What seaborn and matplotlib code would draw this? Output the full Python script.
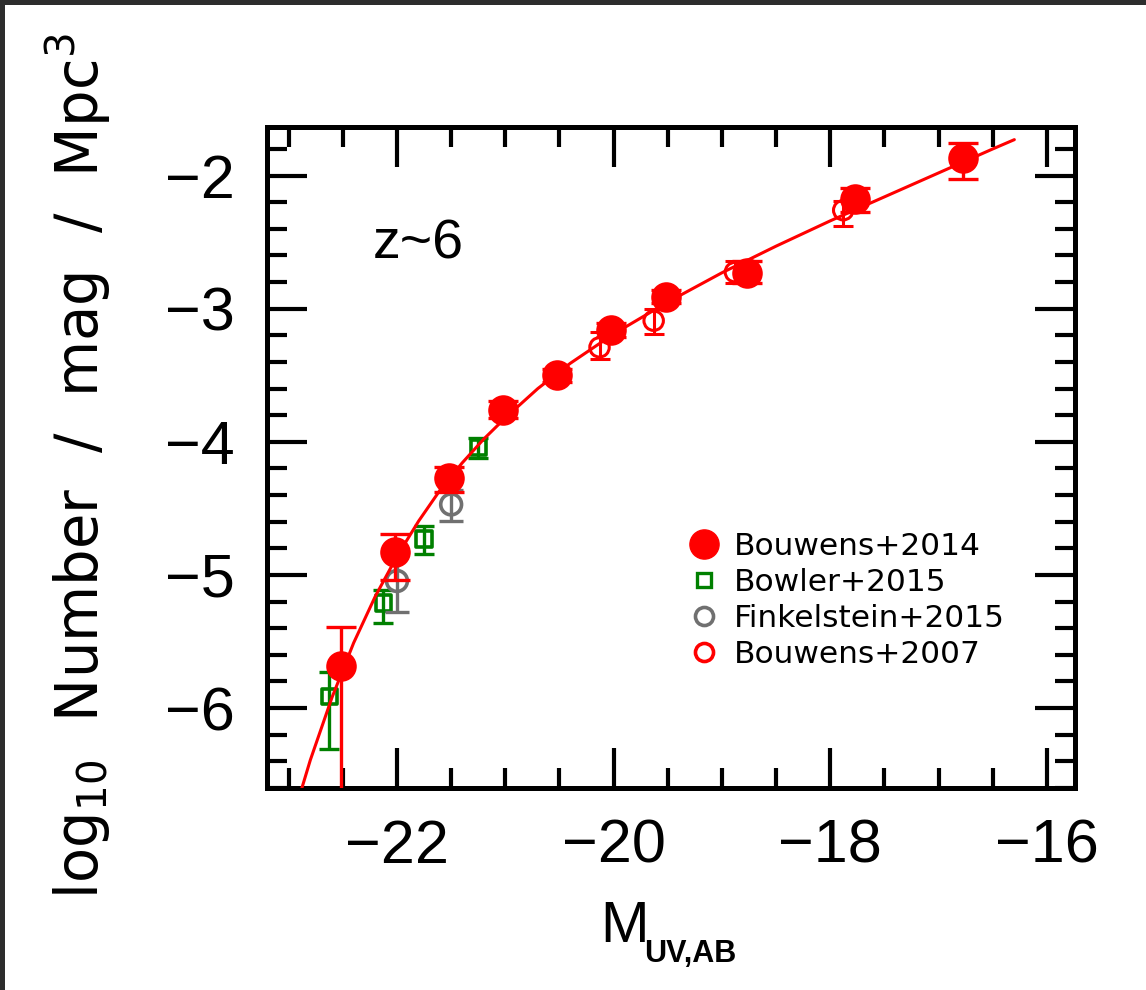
import numpy as np
import pandas as pd
import matplotlib
matplotlib.use("Agg")
import matplotlib.pyplot as plt
from matplotlib.lines import Line2D
from matplotlib.patches import Rectangle
from matplotlib.ticker import MultipleLocator
import seaborn as sns

# ---------------- data ----------------
b14_M = [-22.52, -22.02, -21.52, -21.02, -20.52, -20.02, -19.52, -18.77, -17.77, -16.77]
b14_logphi = [-5.68, -4.83, -4.27, -3.76, -3.50, -3.16, -2.91, -2.73, -2.175, -1.87]
b14_hi = [-5.39, -4.695, -4.19, -3.69, -3.45, -3.11, -2.86, -2.64, -2.09, -1.755]
b14_lo = [-7.0, -5.04, -4.375, -3.82, -3.55, -3.21, -2.96, -2.81, -2.275, -2.025]

bowler_M = [-22.625, -22.125, -21.75, -21.25]
bowler_logphi = [-5.91, -5.21, -4.73, -4.045]
bowler_hi = [-5.73, -5.11, -4.63, -3.97]
bowler_lo = [-6.31, -5.36, -4.84, -4.12]

fink_M = [-22.0, -21.5]
fink_logphi = [-5.045, -4.47]
fink_hi = [-4.85, -4.36]
fink_lo = [-5.28, -4.595]

b07_M = [-20.13, -19.63, -18.88, -17.88]
b07_logphi = [-3.29, -3.09, -2.725, -2.26]
b07_hi = [-3.175, -3.0, -2.64, -2.19]
b07_lo = [-3.375, -3.19, -2.81, -2.38]

fit_M = [-22.9, -22.8, -22.6, -22.4, -22.2, -22.0, -21.8, -21.6, -21.4, -21.2, -21.0,
         -20.7, -20.4, -20.0, -19.5, -19.0, -18.5, -18.0, -17.5, -17.0, -16.5, -16.3]
fit_logphi = [-6.66, -6.39, -5.92, -5.51, -5.16, -4.86, -4.595, -4.36, -4.16, -3.98, -3.82,
              -3.60, -3.41, -3.19, -2.95, -2.73, -2.53, -2.34, -2.16, -1.98, -1.80, -1.73]

legend_labels = ["Bouwens+2014", "Bowler+2015", "Finkelstein+2015", "Bouwens+2007"]
x_ticks = [-22, -20, -18, -16]
y_ticks = [-6, -5, -4, -3, -2]

# ---------------- style ----------------
sns.set_theme(style="ticks")
plt.rcParams["font.family"] = ["Liberation Sans", "DejaVu Sans"]
plt.rcParams["mathtext.fontset"] = "custom"
plt.rcParams["mathtext.rm"] = "DejaVu Sans"
plt.rcParams["mathtext.it"] = "DejaVu Sans"
plt.rcParams["mathtext.bf"] = "DejaVu Sans:bold"
for key in ["text.color", "axes.labelcolor", "xtick.color", "ytick.color", "axes.edgecolor"]:
    plt.rcParams[key] = "black"

RED = "#ff0000"
GREEN = "#008000"
GREY = "#707070"

fig = plt.figure(figsize=(11.46, 9.90), dpi=100)
ax = fig.add_axes([267 / 1146, 1 - 788 / 990, 808 / 1146, 661 / 990])
ax.set_facecolor("white")


def err(vals, lo, hi):
    v = np.asarray(vals)
    return [v - np.asarray(lo), np.asarray(hi) - v]


# Bowler+2015
ax.errorbar(bowler_M, bowler_logphi, yerr=err(bowler_logphi, bowler_lo, bowler_hi), fmt="none",
            ecolor=GREEN, elinewidth=2.4, capsize=7, capthick=2.4, zorder=2)
sns.scatterplot(x=bowler_M, y=bowler_logphi, marker="s", s=11 ** 2, facecolors="none",
                edgecolor=GREEN, linewidth=2.6, legend=False, ax=ax, zorder=2.1)

# Finkelstein+2015
ax.errorbar(fink_M, fink_logphi, yerr=err(fink_logphi, fink_lo, fink_hi), fmt="none",
            ecolor=GREY, elinewidth=2.4, capsize=8.5, capthick=2.4, zorder=3)
sns.scatterplot(x=fink_M, y=fink_logphi, marker="o", s=15 ** 2, facecolors="none",
                edgecolor=GREY, linewidth=2.6, legend=False, ax=ax, zorder=3.1)

# Bouwens+2007
ax.errorbar(b07_M, b07_logphi, yerr=err(b07_logphi, b07_lo, b07_hi), fmt="none",
            ecolor=RED, elinewidth=2.2, capsize=7, capthick=2.2, zorder=4)
sns.scatterplot(x=b07_M, y=b07_logphi, marker="o", s=14 ** 2, facecolors="none",
                edgecolor=RED, linewidth=2.2, legend=False, ax=ax, zorder=4.1)

# Bouwens+2014
ax.errorbar(b14_M, b14_logphi, yerr=err(b14_logphi, b14_lo, b14_hi), fmt="none",
            ecolor=RED, elinewidth=2.4, capsize=11, capthick=2.4, zorder=5)
sns.scatterplot(x=b14_M, y=b14_logphi, marker="o", s=22 ** 2, color=RED,
                edgecolor=RED, linewidth=0, legend=False, ax=ax, zorder=6)

# fit line
sns.lineplot(x=fit_M, y=fit_logphi, sort=False, estimator=None, color=RED, lw=2.2,
             ax=ax, zorder=7)

# ---------------- axes ----------------
ax.set_xlim(-23.2, -15.74)
ax.set_ylim(-6.6, -1.635)
ax.set_xticks(x_ticks)
ax.set_yticks(y_ticks)
ax.xaxis.set_minor_locator(MultipleLocator(0.5))
ax.yaxis.set_minor_locator(MultipleLocator(0.2))
ax.tick_params(which="both", direction="in", top=True, right=True, color="black",
               labelcolor="black", width=3.0)
ax.tick_params(which="major", length=29, labelsize=44)
ax.tick_params(which="minor", length=14.5)
ax.tick_params(axis="x", which="major", pad=22)
ax.tick_params(axis="y", which="major", pad=23)
for sp in ax.spines.values():
    sp.set_linewidth(3.6)
    sp.set_color("black")
    sp.set_visible(True)

# axis titles
fig.text(600 / 1146, 1 - 942 / 990, "M", fontsize=42, ha="left", va="baseline",
         color="black")
fig.text(644 / 1146, 1 - 962 / 990, "UV,AB", fontsize=22, fontweight="bold",
         ha="left", va="baseline", color="black")
fig.text(78 / 1146, 1 - 466 / 990, r"log$_{10}$  Number  /  mag  /  Mpc$^3$",
         fontsize=41.5, rotation=90, ha="center", va="center", color="black",
         family=["DejaVu Sans"])

ax.text(-21.80, -2.52, "z~6", fontsize=40, ha="center", va="center", color="black")

# legend
handles = [
    Line2D([], [], ls="none", marker="o", ms=21, mfc=RED, mec=RED),
    Line2D([], [], ls="none", marker="s", ms=10, mfc="none", mec=GREEN, mew=2.4),
    Line2D([], [], ls="none", marker="o", ms=13, mfc="none", mec=GREY, mew=2.6),
    Line2D([], [], ls="none", marker="o", ms=13, mfc="none", mec=RED, mew=2.6),
]
leg = fig.legend(handles, legend_labels, loc="upper left",
                 bbox_to_anchor=(689 / 1146, 1 - 532 / 990), frameon=False,
                 prop={"family": "DejaVu Sans", "size": 22.5}, borderpad=0,
                 handlelength=0.95, handletextpad=0.5, labelspacing=0.22, borderaxespad=0)

# dark screenshot border
fig.patches.append(Rectangle((0, 0), 5 / 1146, 1, transform=fig.transFigure,
                             facecolor="#2d2d2d", edgecolor="none", zorder=10))
fig.patches.append(Rectangle((0, 1 - 5 / 990), 1, 5 / 990, transform=fig.transFigure,
                             facecolor="#2d2d2d", edgecolor="none", zorder=10))

fig.savefig("out.png", dpi=100, facecolor="white")
